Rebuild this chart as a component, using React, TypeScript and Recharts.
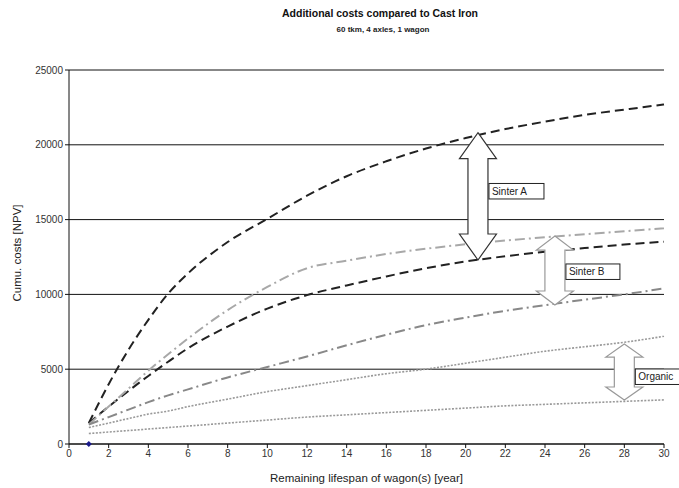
import { ComposedChart, Line, Scatter, XAxis, YAxis, CartesianGrid, ReferenceLine } from "recharts";

// Additional costs compared to Cast Iron — cumulative NPV costs per remaining wagon lifespan.
const years = [1, 2, 3, 4, 5, 6, 8, 10, 12, 14, 16, 18, 20, 22, 24, 26, 28, 30];
const sinterAHigh = [1400, 4000, 6300, 8300, 10050, 11400, 13500, 15050, 16600, 17900, 18900, 19750, 20450, 21050, 21550, 22000, 22350, 22700];
const sinterALow = [1400, 2500, 3550, 4550, 5500, 6400, 7850, 9050, 9950, 10600, 11200, 11750, 12200, 12550, 12850, 13100, 13330, 13520];
const sinterBHigh = [1300, 2500, 3700, 4900, 6000, 7050, 8950, 10500, 11750, 12250, 12700, 13050, 13350, 13600, 13820, 14020, 14220, 14420];
const sinterBLow = [1300, 1800, 2300, 2800, 3250, 3650, 4450, 5150, 5850, 6600, 7300, 7950, 8450, 8900, 9280, 9650, 10000, 10400];
const organicHigh = [1100, 1400, 1700, 2000, 2200, 2500, 3000, 3500, 3900, 4300, 4700, 5000, 5400, 5800, 6200, 6500, 6800, 7200];
const organicLow = [700, 800, 900, 1000, 1100, 1200, 1400, 1600, 1800, 1950, 2100, 2250, 2400, 2550, 2650, 2750, 2850, 2950];
const castIron = [{ year: 1, cost: 0 }];

const xTicks = [0, 2, 4, 6, 8, 10, 12, 14, 16, 18, 20, 22, 24, 26, 28, 30];
const yTicks = [0, 5000, 10000, 15000, 20000, 25000];

// spread between the two variants of each material: label, year, top, bottom, label height
const spreadLabels = ["Sinter A", "Sinter B", "Organic"];
const spreadYears = [20.62, 24.5, 28];
const spreadTops = [20810, 13900, 6680];
const spreadBottoms = [12300, 9290, 2940];
const spreadLabelAt = [16880, 11500, 4480];

const spreadStyle: Record<string, { stroke: string; head: number; boxW: number }> = {
  "Sinter A": { stroke: "#333", head: 26, boxW: 55 },
  "Sinter B": { stroke: "#999", head: 14, boxW: 54 },
  Organic: { stroke: "#999", head: 13, boxW: 50 },
};

const rows = years.map((year, i) => ({
  year,
  sinterAHigh: sinterAHigh[i],
  sinterALow: sinterALow[i],
  sinterBHigh: sinterBHigh[i],
  sinterBLow: sinterBLow[i],
  organicHigh: organicHigh[i],
  organicLow: organicLow[i],
}));

const FONT = "'Liberation Sans', Arial, sans-serif";

function DoubleArrow(props: any) {
  const { x1, y1, y2, label, labelY } = props;
  const { stroke, head, boxW } = spreadStyle[label];
  const x = x1;
  const top = Math.min(y1, y2);
  const bot = Math.max(y1, y2);
  const hw = 18.5;
  const sw = 10;
  const pts = [
    [x, top], [x + hw, top + head], [x + sw, top + head], [x + sw, bot - head],
    [x + hw, bot - head], [x, bot], [x - hw, bot - head], [x - sw, bot - head],
    [x - sw, top + head], [x - hw, top + head],
  ].map((p) => p.join(",")).join(" ");
  const by = labelY - 8;
  return (
    <g>
      <polygon points={pts} fill="#fff" stroke={stroke} strokeWidth={1.2} />
      <rect x={x + 11} y={by} width={boxW} height={15.5} fill="#fff" stroke="#222" strokeWidth={1} />
      <text x={x + 14} y={by + 11.5} fontSize={10} fontFamily={FONT} fill="#222">{label}</text>
    </g>
  );
}

function CastIronDot(props: any) {
  const { cx, cy } = props;
  return <path d={`M${cx},${cy - 3} L${cx + 3},${cy} L${cx},${cy + 3} L${cx - 3},${cy} Z`} fill="#1a1a8c" />;
}

export default function App() {
  return (
    <div style={{ position: "absolute", left: 0, top: 0, width: 679, height: 488, background: "#fff", fontFamily: FONT, overflow: "hidden" }}>
      <div style={{ position: "absolute", top: 7, left: 0, width: 760, textAlign: "center", fontSize: 10.5, fontWeight: "bold", color: "#111" }}>
        Additional costs compared to Cast Iron
      </div>
      <div style={{ position: "absolute", top: 25, left: 0, width: 766, textAlign: "center", fontSize: 8, fontWeight: "bold", color: "#222" }}>
        60 tkm, 4 axles, 1 wagon
      </div>
      <div style={{ position: "absolute", top: 472, left: 69, width: 595, textAlign: "center", fontSize: 11.5, color: "#222" }}>
        Remaining lifespan of wagon(s) [year]
      </div>
      <div style={{ position: "absolute", left: 17, top: 253, width: 0, height: 0 }}>
        <div style={{ position: "absolute", transform: "translate(-50%, -50%) rotate(-90deg)", whiteSpace: "nowrap", fontSize: 11.5, color: "#222" }}>
          Cumu. costs [NPV]
        </div>
      </div>
      <ComposedChart width={679} height={488} data={rows} margin={{ top: 70, right: 15, bottom: 20, left: 0 }}>
        <CartesianGrid vertical={false} stroke="#111" strokeWidth={1} />
        <XAxis
          dataKey="year"
          type="number"
          domain={[0, 30]}
          ticks={xTicks}
          height={24}
          tickSize={4}
          stroke="#111"
          tick={{ fontSize: 10, fill: "#333", fontFamily: FONT }}
        />
        <YAxis
          type="number"
          domain={[0, 25000]}
          ticks={yTicks}
          width={69}
          tickSize={4}
          stroke="#111"
          tick={{ fontSize: 10, fill: "#333", fontFamily: FONT }}
        />
        <Line dataKey="sinterAHigh" type="monotone" stroke="#222" strokeWidth={2} strokeDasharray="9 5" dot={false} isAnimationActive={false} />
        <Line dataKey="sinterALow" type="monotone" stroke="#222" strokeWidth={2} strokeDasharray="9 5" dot={false} isAnimationActive={false} />
        <Line dataKey="sinterBHigh" type="monotone" stroke="#a8a8a8" strokeWidth={2} strokeDasharray="10 4 2 4" dot={false} isAnimationActive={false} />
        <Line dataKey="sinterBLow" type="monotone" stroke="#888" strokeWidth={2} strokeDasharray="10 4 2 4" dot={false} isAnimationActive={false} />
        <Line dataKey="organicHigh" type="monotone" stroke="#999" strokeWidth={1.6} strokeDasharray="2 1.5" dot={false} isAnimationActive={false} />
        <Line dataKey="organicLow" type="monotone" stroke="#999" strokeWidth={1.6} strokeDasharray="2 1.5" dot={false} isAnimationActive={false} />
        <Scatter data={castIron} dataKey="cost" shape={<CastIronDot />} isAnimationActive={false} />
        {spreadLabels.map((label, i) => (
          <ReferenceLine
            key={label}
            segment={[{ x: spreadYears[i], y: spreadTops[i] }, { x: spreadYears[i], y: spreadBottoms[i] }]}
            shape={(p: any) => {
              // place the label box at its value on the same y scale as the arrow ends
              const { y1, y2 } = p;
              const frac = (spreadTops[i] - spreadLabelAt[i]) / (spreadTops[i] - spreadBottoms[i]);
              return <DoubleArrow {...p} label={label} labelY={y1 + (y2 - y1) * frac} />;
            }}
          />
        ))}
      </ComposedChart>
    </div>
  );
}
